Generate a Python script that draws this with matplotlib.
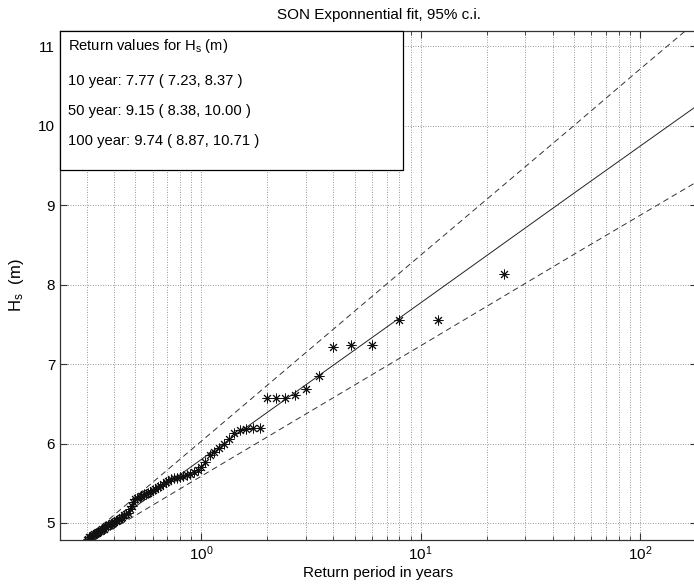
import numpy as np
import matplotlib
matplotlib.use("Agg")
import matplotlib.pyplot as plt
from matplotlib.patches import Rectangle
from matplotlib.ticker import LogLocator, NullFormatter

plt.rcParams['font.family'] = ['Liberation Sans', 'DejaVu Sans']
plt.rcParams['mathtext.default'] = 'regular'

# return periods of the empirical points (years)
periods = [24.0, 12.0, 8.0, 6.0, 4.8, 4.0, 3.43, 3.0, 2.67, 2.4,
           2.18, 2.0, 1.846, 1.714, 1.6, 1.5, 1.412, 1.333, 1.263, 1.2,
           1.143, 1.091, 1.043, 1.0, 0.96, 0.923, 0.889, 0.857, 0.828, 0.8,
           0.774, 0.75, 0.727, 0.706, 0.686, 0.667, 0.649, 0.632, 0.615, 0.6,
           0.585, 0.571, 0.558, 0.545, 0.533, 0.522, 0.511, 0.5, 0.49, 0.48,
           0.471, 0.462, 0.453, 0.444, 0.436, 0.429, 0.421, 0.414, 0.407, 0.4,
           0.393, 0.387, 0.381, 0.375, 0.369, 0.364, 0.358, 0.353, 0.348, 0.343,
           0.338, 0.333, 0.329, 0.324, 0.32, 0.316, 0.312, 0.308, 0.304, 0.3]
# observed Hs (m)
hs_obs = [8.13, 7.56, 7.55, 7.24, 7.24, 7.22, 6.85, 6.68, 6.61, 6.57,
          6.57, 6.57, 6.19, 6.19, 6.18, 6.17, 6.13, 6.06, 5.99, 5.94,
          5.89, 5.86, 5.77, 5.70, 5.67, 5.64, 5.62, 5.61, 5.59, 5.58,
          5.57, 5.56, 5.55, 5.53, 5.51, 5.49, 5.47, 5.45, 5.43, 5.41,
          5.39, 5.38, 5.37, 5.36, 5.34, 5.33, 5.31, 5.30, 5.27, 5.22,
          5.17, 5.13, 5.11, 5.10, 5.08, 5.06, 5.05, 5.04, 5.03, 5.01,
          5.00, 4.99, 4.98, 4.97, 4.96, 4.95, 4.93, 4.92, 4.91, 4.90,
          4.89, 4.88, 4.87, 4.86, 4.85, 4.84, 4.83, 4.82, 4.80, 4.79]

# fitted return levels and 95% c.i.
fit_periods = [0.3, 1, 10, 50, 100, 200]
fit_level = [4.77, 5.80, 7.77, 9.15, 9.74, 10.33]
ci_low = [4.73, 5.59, 7.23, 8.38, 8.87, 9.36]
ci_high = [4.81, 6.03, 8.37, 10.00, 10.71, 11.41]

box_lines = ['Return values for H$_s$ (m)',
             '10 year: 7.77 ( 7.23, 8.37 )',
             '50 year: 9.15 ( 8.38, 10.00 )',
             '100 year: 9.74 ( 8.87, 10.71 )']

fig = plt.figure(figsize=(6.94, 5.84), dpi=100)
ax = fig.add_axes([60 / 694, 44 / 584, 637 / 694, 509 / 584])

ax.plot(fit_periods, fit_level, '-', color='#222222', lw=0.7)
ax.plot(fit_periods, ci_low, '--', color='#333333', lw=0.7, dashes=(6, 4))
ax.plot(fit_periods, ci_high, '--', color='#333333', lw=0.7, dashes=(6, 4))
ax.plot(periods, hs_obs, linestyle='none', marker=(8, 2, 0), ms=7,
        mec='#111111', mew=0.7, color='black')

ax.set_xscale('log')
ax.set_xlim(0.2265, 182)
ax.set_ylim(4.786, 11.19)
ax.set_yticks([5, 6, 7, 8, 9, 10, 11])
ax.xaxis.set_minor_locator(LogLocator(base=10, subs=np.arange(2, 10)))
ax.xaxis.set_minor_formatter(NullFormatter())

ax.grid(True, which='major', linestyle=(0, (1, 2)), color='#777777', lw=0.6)
ax.grid(True, which='minor', axis='x', linestyle=(0, (1, 2)), color='#777777', lw=0.6)
ax.tick_params(which='both', direction='in', top=True, right=True, labelsize=11,
               color='#333333')
ax.tick_params(which='major', length=5)
ax.tick_params(which='minor', length=3)
for s in ax.spines.values():
    s.set_color('#333333')
    s.set_linewidth(0.9)

ax.set_title('SON Exponnential fit, 95% c.i.', fontsize=11, pad=9)
ax.set_xlabel('Return period in years', fontsize=11, labelpad=2)
ax.set_ylabel('H$_s$  (m)', fontsize=12, labelpad=9)

# annotation box
ax.add_patch(Rectangle((0, 0.7275), 0.5385, 0.2725, transform=ax.transAxes,
                       facecolor='white', edgecolor='black', lw=0.9,
                       zorder=5, clip_on=False))
ypos = [0.971, 0.902, 0.843, 0.784]
for txt, yy in zip(box_lines, ypos):
    ax.text(0.0126, yy, txt, transform=ax.transAxes, fontsize=10.6,
            va='center', ha='left', zorder=6)

fig.savefig('out.png', dpi=100)
